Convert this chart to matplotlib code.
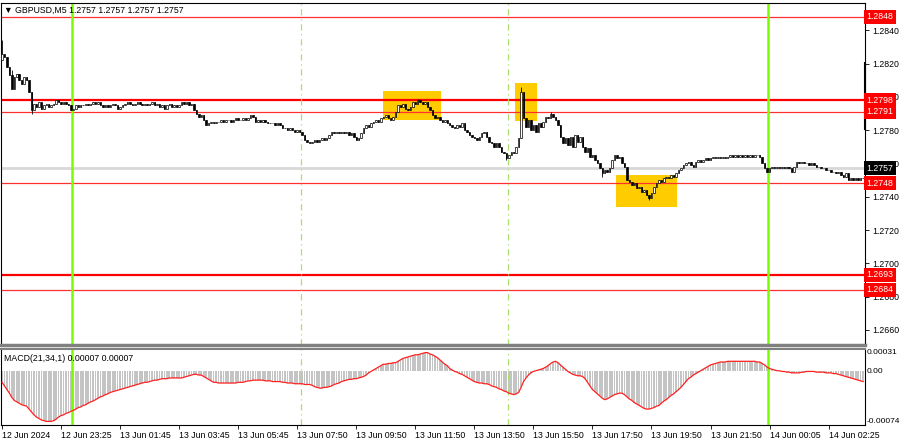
import matplotlib
matplotlib.use("Agg")
import matplotlib.pyplot as plt
from matplotlib.patches import Rectangle

plt.rcParams['font.family'] = ['Liberation Sans', 'DejaVu Sans']

# GBPUSD M5, one close per bar
closes = [
    1.2826, 1.2824, 1.2818, 1.2813, 1.2805, 1.2812, 1.2814, 1.2810, 1.2808, 1.2812,
    1.2810, 1.2803, 1.2792, 1.2796, 1.2794, 1.2797, 1.2793, 1.2795, 1.2796, 1.2794,
    1.2795, 1.2796, 1.2798, 1.2797, 1.2796, 1.2797, 1.2796, 1.2795, 1.2792, 1.2793,
    1.2795, 1.2794, 1.2795, 1.2795, 1.2796, 1.2795, 1.2796, 1.2797, 1.2796, 1.2797,
    1.2795, 1.2794, 1.2795, 1.2794, 1.2795, 1.2796, 1.2795, 1.2793, 1.2794, 1.2795,
    1.2796, 1.2797, 1.2796, 1.2795, 1.2796, 1.2797, 1.2796, 1.2795, 1.2796, 1.2795,
    1.2796, 1.2797, 1.2795, 1.2796, 1.2794, 1.2795, 1.2793, 1.2795, 1.2796, 1.2794,
    1.2795, 1.2794, 1.2795, 1.2797, 1.2796, 1.2797, 1.2795, 1.2796, 1.2792, 1.2790,
    1.2788, 1.2789, 1.2786, 1.2783, 1.2784, 1.2785, 1.2784, 1.2785, 1.2785, 1.2786,
    1.2785, 1.2786, 1.2786, 1.2785, 1.2786, 1.2787, 1.2786, 1.2786, 1.2787, 1.2786,
    1.2787, 1.2789, 1.2788, 1.2785, 1.2786, 1.2785, 1.2786, 1.2785, 1.2784, 1.2784,
    1.2784, 1.2783, 1.2784, 1.2783, 1.2781, 1.2781, 1.2780, 1.2781, 1.2780, 1.2779,
    1.2780, 1.2779, 1.2777, 1.2774, 1.2773, 1.2772, 1.2773, 1.2774, 1.2773, 1.2774,
    1.2775, 1.2774, 1.2775, 1.2777, 1.2779, 1.2778, 1.2779, 1.2778, 1.2779, 1.2778,
    1.2779, 1.2777, 1.2778, 1.2776, 1.2774, 1.2775, 1.2778, 1.2781, 1.2783, 1.2782,
    1.2784, 1.2785, 1.2786, 1.2785, 1.2787, 1.2788, 1.2789, 1.2787, 1.2786, 1.2788,
    1.2791, 1.2795, 1.2794, 1.2796, 1.2793, 1.2792, 1.2794, 1.2797, 1.2796, 1.2798,
    1.2797, 1.2796, 1.2797, 1.2794, 1.2792, 1.2789, 1.2787, 1.2788, 1.2786, 1.2785,
    1.2786, 1.2784, 1.2783, 1.2782, 1.2781, 1.2783, 1.2782, 1.2784, 1.2780, 1.2779,
    1.2777, 1.2776, 1.2775, 1.2774, 1.2776, 1.2778, 1.2779, 1.2776, 1.2773, 1.2772,
    1.2770, 1.2772, 1.2770, 1.2767, 1.2766, 1.2763, 1.2765, 1.2767, 1.2766, 1.2770,
    1.2775, 1.2803, 1.2787, 1.2782, 1.2786, 1.2780, 1.2783, 1.2779, 1.2784, 1.2782,
    1.2785, 1.2788, 1.2787, 1.2790, 1.2788, 1.2786, 1.2783, 1.2776, 1.2772, 1.2775,
    1.2771, 1.2776, 1.2770, 1.2777, 1.2773, 1.2776, 1.2770, 1.2767, 1.2769, 1.2764,
    1.2765, 1.2762, 1.2760, 1.2757, 1.2754, 1.2756, 1.2755, 1.2757, 1.2762, 1.2765,
    1.2763, 1.2764, 1.2760, 1.2758, 1.2750, 1.2749, 1.2747, 1.2748, 1.2745, 1.2746,
    1.2743, 1.2744, 1.2741, 1.2739, 1.2742, 1.2746, 1.2748, 1.2750, 1.2749, 1.2751,
    1.2752, 1.2751, 1.2753, 1.2752, 1.2754, 1.2756, 1.2757, 1.2759, 1.2760, 1.2761,
    1.2759, 1.2758, 1.2761, 1.2762, 1.2761, 1.2762, 1.2763, 1.2762, 1.2763, 1.2764,
    1.2763, 1.2764, 1.2763, 1.2764, 1.2763, 1.2764, 1.2765, 1.2764, 1.2765, 1.2764,
    1.2765, 1.2764, 1.2765, 1.2764, 1.2765, 1.2764, 1.2765, 1.2765, 1.2764, 1.2760,
    1.2757, 1.2755, 1.2757, 1.2758, 1.2757, 1.2758, 1.2757, 1.2758, 1.2757, 1.2758,
    1.2757, 1.2755, 1.2758, 1.2761, 1.2760, 1.2761, 1.2760, 1.2760, 1.2759, 1.2760,
    1.2759, 1.2758, 1.2758, 1.2757, 1.2757, 1.2756, 1.2756, 1.2755, 1.2755, 1.2754,
    1.2755, 1.2753, 1.2752, 1.2754, 1.2750, 1.2751, 1.2750, 1.2751, 1.2750, 1.2751,
    1.2751,
]
first_open = 1.2822
# wicks sticking out of the bodies
wick_high = {0: 1.2834, 4: 1.2816, 169: 1.2799, 211: 1.2806, 223: 1.2791}
wick_low = {12: 1.2790, 205: 1.2762, 244: 1.2752, 263: 1.2738}

# MACD(21,34,1), units of 1e-5
macd = [
    -15, -20, -25, -30, -36, -40, -42, -44, -46, -47,
    -48, -52, -56, -60, -63, -65, -67, -68, -69, -69,
    -69, -68, -66, -63, -61, -60, -58, -57, -55, -54,
    -52, -50, -49, -47, -46, -44, -42, -41, -39, -37,
    -35, -34, -32, -31, -29, -28, -27, -26, -25, -24,
    -23, -22, -21, -20, -19, -18, -17, -16, -15, -15,
    -14, -13, -12, -12, -11, -10, -10, -10, -9, -9,
    -9, -9, -9, -9, -8, -7, -6, -5, -4, -4,
    -5, -5, -7, -9, -11, -13, -15, -15, -16, -16,
    -16, -16, -16, -16, -16, -16, -15, -15, -15, -14,
    -13, -13, -12, -12, -12, -12, -12, -13, -13, -13,
    -14, -14, -14, -14, -15, -15, -16, -16, -16, -17,
    -17, -17, -17, -18, -18, -18, -19, -21, -22, -23,
    -23, -22, -22, -21, -20, -18, -17, -16, -14, -13,
    -12, -11, -11, -10, -10, -9, -8, -7, -5, -2,
    0, 2, 4, 6, 8, 10, 10, 11, 11, 12,
    12, 14, 16, 18, 19, 20, 21, 22, 23, 23,
    24, 25, 26, 26, 24, 23, 21, 19, 16, 13,
    10, 8, 4, 2, 0, -1, -3, -4, -6, -8,
    -10, -12, -14, -15, -16, -16, -17, -17, -18, -20,
    -21, -22, -24, -25, -27, -28, -30, -31, -32, -31,
    -29, -22, -14, -9, -5, -2, 0, 1, 2, 3,
    4, 6, 8, 11, 13, 14, 12, 9, 6, 3,
    0, -2, -4, -5, -6, -6, -7, -10, -15, -20,
    -25, -28, -31, -34, -37, -39, -38, -36, -34, -32,
    -31, -30, -30, -32, -35, -38, -40, -43, -45, -47,
    -49, -51, -52, -52, -51, -50, -48, -47, -44, -41,
    -39, -36, -33, -31, -28, -25, -22, -18, -14, -10,
    -8, -5, -3, -1, 1, 3, 5, 7, 9, 10,
    11, 12, 13, 13, 13, 14, 14, 14, 14, 14,
    14, 14, 14, 14, 14, 14, 14, 13, 13, 11,
    9, 6, 4, 3, 2, 1, 1, 0, 0, -1,
    -1, -2, -2, -2, -2, -1, -1, 0, 0, 0,
    0, -1, -1, -1, -1, -2, -2, -2, -3, -3,
    -4, -5, -6, -7, -8, -9, -10, -11, -12, -13,
    -14,
]

levels_thick = [1.2798, 1.2693]
levels_thin = [1.2848, 1.2791, 1.2748, 1.2684]
last_price = 1.2757
edge_mark = (1.2780, 1.2821)

# (first bar, last bar, low, high)
zones = [(154.9, 178.5, 1.27861, 1.28035),
         (208.5, 217.5, 1.27855, 1.28083),
         (249.6, 274.4, 1.27338, 1.27530)]

events_solid = [28.5, 311.4]
events_dashed = [121.5, 205.7]

time_labels = ['12 Jun 2024', '12 Jun 23:25', '13 Jun 01:45', '13 Jun 03:45',
               '13 Jun 05:45', '13 Jun 07:50', '13 Jun 09:50', '13 Jun 11:50',
               '13 Jun 13:50', '13 Jun 15:50', '13 Jun 17:50', '13 Jun 19:50',
               '13 Jun 21:50', '14 Jun 00:05', '14 Jun 02:25']
bars_per_label = 24
price_ticks = [1.2660, 1.2680, 1.2700, 1.2720, 1.2740, 1.2760, 1.2780, 1.2800, 1.2820, 1.2840]

n = len(closes)
xs = list(range(n))
opens = [first_open] + closes[:-1]

fig = plt.figure(figsize=(9, 4.41), dpi=100)
ax = fig.add_axes([1 / 900, 1 - 345 / 441, 864 / 900, 342 / 441])
ax2 = fig.add_axes([1 / 900, 1 - 425 / 441, 864 / 900, 76 / 441])

xlim = (-0.41, 350.8)
fs = 6.3

# ---- price panel ----
for z in zones:
    ax.add_patch(Rectangle((z[0], z[2]), z[1] - z[0], z[3] - z[2],
                           facecolor='#FFCC00', edgecolor='none', zorder=1))

ax.axhline(last_price, color='#D8D8D8', lw=2, zorder=1)
for lv in levels_thick:
    ax.axhline(lv, color='#FF0000', lw=1.6, zorder=2)
for lv in levels_thin:
    ax.axhline(lv, color='#FF3030', lw=0.9, zorder=2)

for ev in events_solid:
    for a in (ax, ax2):
        a.axvline(ev, color='#7CFC00', lw=1.8, zorder=2)
for ev in events_dashed:
    for a in (ax, ax2):
        a.axvline(ev, color='#A8E070', lw=0.9, ls=(0, (5, 3, 1, 3)), zorder=2)

for i in xs:
    o, c = opens[i], closes[i]
    hi = max(o, c, wick_high.get(i, 0))
    lo = min(o, c, wick_low.get(i, 9))
    ax.vlines(i, lo, hi, color='black', lw=0.6, zorder=3)
    body = abs(c - o)
    fc = 'white' if c >= o else 'black'
    ax.bar(i, max(body, 0.000002), bottom=min(o, c), width=0.6,
           color=fc, edgecolor='black', linewidth=0.5, zorder=4)

ax.vlines(xlim[1], edge_mark[0], edge_mark[1], color='black', lw=1.5,
          zorder=5, clip_on=False)

ax.set_xlim(*xlim)
ax.set_ylim(1.26509, 1.28564)
ax.set_xticks([])
ax.yaxis.tick_right()
ax.set_yticks(price_ticks)
ax.set_yticklabels(['%.4f' % p for p in price_ticks])
ax.tick_params(axis='y', direction='out', length=3, width=0.6, pad=2,
               labelsize=fs, colors='black')
for side in ('left', 'right', 'top'):
    ax.spines[side].set_linewidth(0.8)
ax.spines['bottom'].set_color('#808080')
ax.spines['bottom'].set_linewidth(2.5)

tr = ax.get_yaxis_transform()
for lv in levels_thick + levels_thin:
    ax.text(1.002, lv, '%.4f' % lv, transform=tr, va='center', ha='left',
            fontsize=fs, color='white', zorder=10,
            bbox=dict(boxstyle='square,pad=0.28', fc='#FF0000', ec='none'))
ax.text(1.002, last_price, '%.4f' % last_price, transform=tr, va='center',
        ha='left', fontsize=fs, color='white', zorder=10,
        bbox=dict(boxstyle='square,pad=0.28', fc='black', ec='none'))

ax.text(0.004, 0.993, '\u25bc GBPUSD,M5 1.2757 1.2757 1.2757 1.2757',
        transform=ax.transAxes, va='top', ha='left', fontsize=fs)

# ---- MACD panel ----
macd_v = [m * 1e-5 for m in macd]
ax2.bar(xs, macd_v, width=0.7, color='#C4C4C4', zorder=1)
ax2.plot(xs, macd_v, color='#FF2020', lw=0.9, zorder=3)
ax2.set_xlim(*xlim)
ax2.set_ylim(-0.00074, 0.00031)
ax2.yaxis.tick_right()
ax2.set_yticks([0.00031, 0.0, -0.00074])
ax2.set_yticklabels(['0.00031', '0.00', '-0.00074'])
ax2.tick_params(axis='y', length=0, pad=1.5, labelsize=fs - 0.3)
for lab, va in zip(ax2.get_yticklabels(), ['top', 'center', 'bottom']):
    lab.set_va(va)
ax2.spines['top'].set_color('#808080')
ax2.spines['top'].set_linewidth(1.5)
for side in ('left', 'right', 'bottom'):
    ax2.spines[side].set_linewidth(0.8)

tick_pos = [k * bars_per_label for k in range(len(time_labels))]
ax2.set_xticks(tick_pos)
ax2.set_xticklabels(time_labels, ha='left')
ax2.tick_params(axis='x', direction='out', length=3, width=0.6, pad=1.5,
                labelsize=fs)

ax2.text(0.004, 0.93, 'MACD(21,34,1) 0.00007 0.00007', transform=ax2.transAxes,
         va='top', ha='left', fontsize=fs)

fig.savefig('out.png', dpi=100)
